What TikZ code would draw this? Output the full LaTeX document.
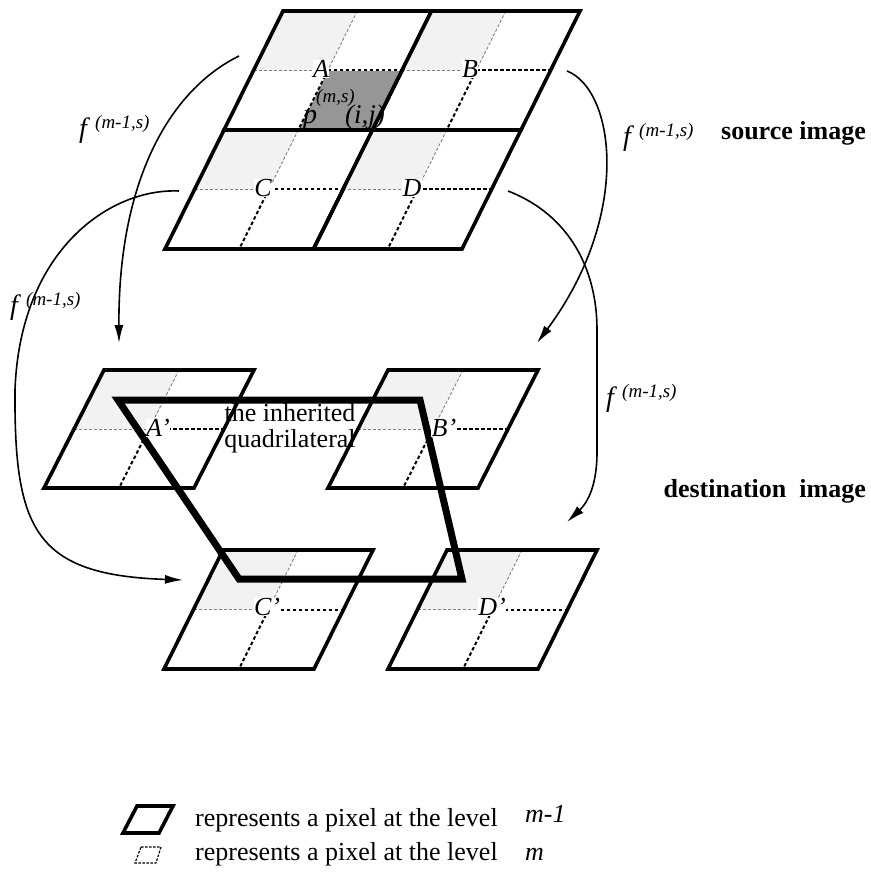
\documentclass[tikz,border=0pt]{standalone}
\usepackage{fontspec}
\setmainfont{Liberation Serif}
\usetikzlibrary{arrows.meta}

\definecolor{lightcell}{gray}{0.95}
\definecolor{darkcell}{gray}{0.59}

\tikzset{
  pixedge/.style={line width=3.6pt, line join=miter},
  finegray/.style={draw=gray, line width=0.9pt, dash pattern=on 3pt off 2pt},
  fineblack/.style={draw=black, line width=2pt, dash pattern=on 3.5pt off 2.5pt},
  quadline/.style={line width=7pt, line join=miter},
  mapcurve/.style={line width=1.6pt, -{Latex[length=18pt,width=9pt]}},
  cornerlbl/.style={font=\fontsize{26}{27}\selectfont\itshape, fill=white, inner sep=0.5pt},
  bigtext/.style={font=\fontsize{26}{27}\selectfont, inner sep=0pt},
  boldtext/.style={font=\fontsize{26}{27}\selectfont\bfseries, inner sep=0pt},
  flabel/.style={anchor=base west, inner sep=0pt, font=\fontsize{28}{28}\selectfont\itshape},
  supsc/.style={anchor=base west, inner sep=0pt, font=\fontsize{19}{19}\selectfont\itshape},
}

% one level-(m-1) pixel: top-left corner, width, height, shear
\newcommand{\pixcell}[5]{%
  \begin{scope}[shift={(#1,#2)}, x={(#3pt,0pt)}, y={(-#5pt,-#4pt)}]
    \fill[lightcell] (0,0) -- (0.5,0) -- (0.5,0.5) -- (0,0.5) -- cycle;
    \draw[finegray] (0.5,0) -- (0.5,0.5);
    \draw[finegray] (0,0.5) -- (0.5,0.5);
    \draw[fineblack] (0.5,0.5) -- (0.5,1);
    \draw[fineblack] (0.5,0.5) -- (1,0.5);
    \draw[pixedge] (0,0) -- (1,0) -- (1,1) -- (0,1) -- cycle;
  \end{scope}}

% f^(m-1,s) label with its baseline start
\newcommand{\fmaplabel}[3]{%
  \node[flabel] (#1) at (#2,#3) {f};
  \node[supsc] (#1s) at (#2+16,#3-9) {(m-1,s)};}

\begin{document}
\begin{tikzpicture}[x=1pt,y=-1pt]
\useasboundingbox (0,0) rectangle (870,874);

% ---- source image: 2x2 pixels of level m-1
\fill[darkcell] (328,71) -- (403,71) -- (373,131) -- (298,131) -- cycle;
\pixcell{283}{11}{148.5}{119}{59}
\pixcell{431.5}{11}{148.5}{119}{59}
\pixcell{224}{130}{148.5}{119}{59}
\pixcell{372.5}{130}{148.5}{119}{59}

\node[cornerlbl] (A) at (321,69) {A};
\node[cornerlbl] (B) at (470,69) {B};
\node[cornerlbl] (C) at (263,188) {C};
\node[cornerlbl] (D) at (412,188) {D};

\node[anchor=base west, inner sep=0pt, font=\fontsize{28}{28}\selectfont\itshape] (pmain) at (303,124) {p};
\node[anchor=base west, inner sep=0pt, font=\fontsize{19}{19}\selectfont\itshape] (psup) at (316,103) {(m,s)};
\node[anchor=base west, inner sep=0pt, font=\fontsize{27}{27}\selectfont\itshape] (pargs) at (345,124) {(i,j)};

% ---- destination image: the four mapped pixels
\pixcell{104}{370}{150}{118}{60}
\pixcell{388}{370}{150}{118}{60}
\pixcell{223}{550}{150}{119}{59}
\pixcell{447}{550}{150}{119}{59}

% the inherited quadrilateral
\coordinate (q1) at (118,400);
\coordinate (q2) at (420,400);
\coordinate (q3) at (462,579);
\coordinate (q4) at (239,579);
\draw[quadline] (q1) -- (q2) -- (q3) -- (q4) -- cycle;

\node[cornerlbl] (Ap) at (158,428) {A’};
\node[cornerlbl] (Bp) at (444,428) {B’};
\node[cornerlbl] (Cp) at (267,607) {C’};
\node[cornerlbl] (Dp) at (492,607) {D’};

\node[bigtext, align=center] (inherited) at (290,428) {the inherited\\[-1pt]quadrilateral};

% ---- the mapping f^(m-1,s) from source to destination
\coordinate (sA) at (239,56);
\coordinate (tA) at (119,343);
\coordinate (sB) at (567,71);
\coordinate (tB) at (537,343);
\coordinate (sC) at (179,191);
\coordinate (mC) at (15,390);
\coordinate (tC) at (183,580);
\coordinate (sD) at (508,191);
\coordinate (mD1) at (597,330);
\coordinate (mD2) at (597,452);
\coordinate (tD) at (567,522);

\draw[mapcurve] (sA) .. controls (170,90) and (118,180) .. (tA);
\draw[mapcurve] (sB) .. controls (615,90) and (632,215) .. (tB);
\draw[mapcurve] (sC) .. controls (110,188) and (20,250) .. (mC)
                     .. controls (14,530) and (35,575) .. (tC);
\draw[mapcurve] (sD) .. controls (570,215) and (597,270) .. (mD1)
                     -- (mD2) .. controls (597,490) and (585,505) .. (tD);

\fmaplabel{f1}{79}{138}
\fmaplabel{f2}{623}{146}
\fmaplabel{f3}{10}{314}
\fmaplabel{f4}{606}{406}

\node[boldtext, anchor=base east] (src) at (866,140) {source image};
\node[boldtext, anchor=base east] (dst) at (866,497) {destination\ \ image};

% ---- legend
\coordinate (k1) at (137,806);
\coordinate (k2) at (173,806);
\coordinate (k3) at (159,833);
\coordinate (k4) at (123,833);
\draw[pixedge] (k1) -- (k2) -- (k3) -- (k4) -- cycle;
\coordinate (j1) at (141,847);
\coordinate (j2) at (161,847);
\coordinate (j3) at (156,863);
\coordinate (j4) at (135,863);
\draw[line width=1.2pt, dash pattern=on 2.5pt off 1.5pt] (j1) -- (j2) -- (j3) -- (j4) -- cycle;

\node[bigtext, anchor=base west] (leg1) at (195,826) {represents a pixel at the level};
\node[bigtext, anchor=base west, font=\fontsize{26}{27}\selectfont\itshape] (lev1) at (525,822) {m-1};
\node[bigtext, anchor=base west] (leg2) at (195,860) {represents a pixel at the level};
\node[bigtext, anchor=base west, font=\fontsize{26}{27}\selectfont\itshape] (lev2) at (525,860) {m};
\end{tikzpicture}
\end{document}
